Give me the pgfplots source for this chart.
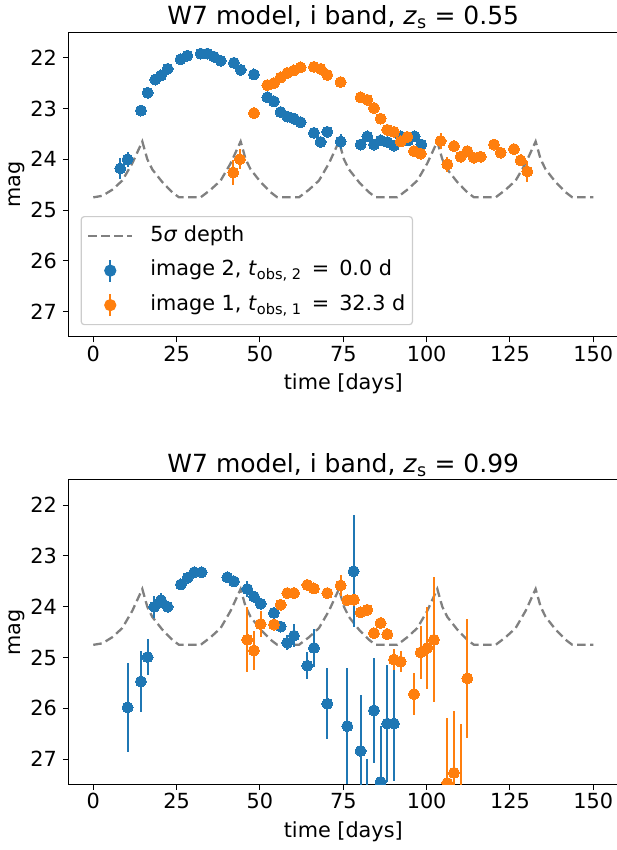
\documentclass[border=0pt]{standalone}
\usepackage{fontspec}
\setmainfont{DejaVu Sans}
\usepackage{pgfplots}
\usepackage{pgfplotstable}
\pgfplotsset{compat=1.18}
\definecolor{mplblue}{HTML}{1F77B4}
\definecolor{mplorange}{HTML}{FF7F0E}
\definecolor{mplgray}{HTML}{808080}
\newcommand{\fs}{\fontsize{20.8}{25}\selectfont}
\newcommand{\ft}{\fontsize{25}{30}\selectfont}

\pgfplotstableread{
x y
0 24.75
2.7 24.72
5.7 24.60
8.7 24.42
11.7 24.08
14.7 23.65
16.2 24.00
17.7 24.20
20.7 24.45
23.7 24.65
25.7 24.75
32.2 24.75
35.2 24.60
38.2 24.42
41.2 24.08
44.2 23.65
45.7 24.00
47.2 24.20
50.2 24.45
53.2 24.65
55.2 24.75
61.7 24.75
64.7 24.60
67.7 24.42
70.7 24.08
73.7 23.65
75.2 24.00
76.7 24.20
79.7 24.45
82.7 24.65
84.7 24.75
91.2 24.75
94.2 24.60
97.2 24.42
100.2 24.08
103.2 23.65
104.7 24.00
106.2 24.20
109.2 24.45
112.2 24.65
114.2 24.75
120.7 24.75
123.7 24.60
126.7 24.42
129.7 24.08
132.7 23.65
134.2 24.00
135.7 24.20
138.7 24.45
141.7 24.65
143.7 24.75
150 24.75
}\depth

\pgfplotstableread{
x y e
8.1 24.18 0.2
10.3 24.00 0.15
14.3 23.04 0.03
16.3 22.69 0.02
18.6 22.43 0.02
20.3 22.35 0.02
22.3 22.22 0.02
26.2 22.03 0.02
28.2 21.96 0.02
32.2 21.92 0.02
34.2 21.92 0.02
36.2 21.98 0.02
38.2 22.06 0.02
42.2 22.10 0.03
44.2 22.24 0.03
48.2 22.33 0.03
52.2 22.78 0.03
54.2 22.86 0.03
56.2 23.07 0.04
58.2 23.16 0.04
60.2 23.20 0.04
62.2 23.27 0.05
66.2 23.48 0.06
68.2 23.66 0.06
70.2 23.46 0.06
74.2 23.65 0.15
80.2 23.71 0.06
82.2 23.55 0.06
84.2 23.71 0.06
86.2 23.63 0.06
88.2 23.66 0.07
90.2 23.73 0.07
92.2 23.55 0.07
94.4 23.63 0.08
96.4 23.55 0.08
98.4 23.71 0.08
}\topblue

\pgfplotstableread{
x y e
42.0 24.26 0.25
44.0 24.00 0.2
48.2 23.09 0.04
52.2 22.54 0.03
54.2 22.50 0.03
56.2 22.39 0.03
58.2 22.30 0.03
60.2 22.25 0.03
62.2 22.19 0.03
66.2 22.18 0.03
68.2 22.22 0.03
70.2 22.34 0.03
74.2 22.48 0.03
80.2 22.78 0.04
82.2 22.83 0.04
84.2 22.99 0.04
86.2 23.20 0.05
88.2 23.42 0.05
90.2 23.46 0.06
92.2 23.65 0.06
94.2 23.56 0.06
96.2 23.84 0.07
98.2 23.89 0.08
104.2 23.64 0.15
106.2 24.10 0.15
108.2 23.74 0.12
110.2 23.95 0.08
112.2 23.84 0.08
114.2 23.97 0.08
116.2 23.95 0.08
120.2 23.71 0.08
122.2 23.87 0.08
126.2 23.80 0.1
128.2 24.02 0.12
130.2 24.24 0.2
}\toporange

\pgfplotstableread{
x y e
10.3 25.98 0.88
14.3 25.47 0.6
16.3 24.99 0.36
18.3 24.00 0.22
20.3 23.87 0.15
22.3 24.00 0.05
26.3 23.56 0.05
28.3 23.43 0.05
30.3 23.32 0.05
32.5 23.32 0.05
40.2 23.42 0.05
42.2 23.50 0.05
46.2 23.65 0.15
48.2 23.80 0.08
50.2 23.94 0.1
54.2 24.12 0.08
56.2 24.39 0.1
58.2 24.71 0.15
60.2 24.57 0.23
64.2 25.16 0.26
66.2 24.81 0.37
70.2 25.91 0.7
76.2 26.35 1.14
78.1 23.30 1.1
80.2 26.84 1.11
82.2 28.20 1.2
84.2 26.04 1.04
86.2 27.45 1.1
88.2 26.30 1.15
90.2 26.30 1.14
}\botblue

\pgfplotstableread{
x y e
46.2 24.65 0.64
48.2 24.86 0.38
50.2 24.34 0.26
54.2 24.35 0.05
56.2 23.96 0.05
58.2 23.73 0.05
60.2 23.73 0.05
64.2 23.57 0.05
66.2 23.64 0.05
70.2 23.73 0.05
74.2 23.58 0.2
76.2 23.87 0.06
78.2 23.86 0.06
80.2 24.11 0.08
82.2 24.06 0.1
84.2 24.52 0.08
86.2 24.32 0.12
88.2 24.54 0.12
90.2 25.04 0.2
92.2 25.08 0.2
96.2 25.72 0.42
98.2 24.90 0.53
100.2 24.81 0.8
102.2 24.65 1.23
106.2 27.47 1.27
108.2 27.27 1.22
110.2 27.51 1.2
112.2 25.41 1.17
}\botorange

\pgfplotsset{
  panel/.style={
    scale only axis, width=550pt, height=304.7pt,
    anchor=south west,
    xmin=-7.5, xmax=157.5, ymin=21.5, ymax=27.5, y dir=reverse,
    xtick={0,25,...,150}, ytick={22,23,24,25,26,27},
    tick align=outside, xtick pos=left, ytick pos=left,
    major tick length=5.3pt,
    every tick/.style={black, line width=1pt},
    axis line style={line width=1pt},
    /pgf/number format/assume math mode=true,
    tick label style={font=\fs},
    xticklabel style={anchor=base, inner sep=0pt, yshift=-19pt},
    yticklabel style={anchor=east, inner sep=0pt, xshift=-6pt},
    xlabel={time [days]},
    ylabel={mag},
    every axis x label/.style={at={(0.5,0)}, anchor=base, yshift=-53pt, font=\fs},
    every axis y label/.style={at={(0,0.5)}, xshift=-51.7pt, rotate=90, anchor=center, font=\fs},
    title style={at={(0.5,1)}, anchor=base, yshift=1.5pt, font=\ft},
    clip marker paths=true,
  },
  depthline/.style={mplgray, line width=2.3pt, dash pattern=on 8.5pt off 4.5pt},
  errpts/.style={#1, only marks, mark=*, mark size=5.5pt, mark options={#1, line width=0pt},
    error bars/.cd, y dir=both, y explicit, error mark=none,
    error bar style={line width=2pt, #1}},
}

\begin{document}
\begin{tikzpicture}
\path[use as bounding box] (0pt,0pt) rectangle (617pt,850pt);

\begin{axis}[panel, at={(68.3pt,513pt)},
  title={W7 model, i band, \textit{z}\textsubscript{s} = 0.55},
  legend cell align=left,
  legend style={at={(0.0225,0.397)}, anchor=north west, draw=black!20, line width=1.2pt,
    rounded corners=3pt, fill=white, font=\fs, inner xsep=5pt, inner ysep=7.5pt, row sep=10.5pt,
    nodes={inner sep=2pt, text height=15pt, text depth=5pt}},
]
\addplot[depthline, legend image code/.code={
  \path[draw=none,fill=none] (0pt,0pt) -- (62pt,0pt);
  \draw[mplgray, line width=2.3pt, dash pattern=on 8.5pt off 4.5pt] (2pt,0pt) -- (46pt,0pt);}]
  table[x=x,y=y] {\depth};
\addlegendentry{5\textit{σ} depth}
\addplot[legend image code/.code={
  \path[draw=none,fill=none] (0pt,0pt) -- (62pt,0pt);
  \draw[mplblue, line width=2pt] (24pt,-11pt) -- (24pt,11pt);
  \fill[mplblue] (24pt,0pt) circle (5.5pt);}, errpts=mplblue]
  table[x=x,y=y,y error=e] {\topblue};
\addlegendentry{image 2, \textit{t}\textsubscript{obs, 2}\, = \,0.0 d}
\addplot[legend image code/.code={
  \path[draw=none,fill=none] (0pt,0pt) -- (62pt,0pt);
  \draw[mplorange, line width=2pt] (24pt,-11pt) -- (24pt,11pt);
  \fill[mplorange] (24pt,0pt) circle (5.5pt);}, errpts=mplorange]
  table[x=x,y=y,y error=e] {\toporange};
\addlegendentry{image 1, \textit{t}\textsubscript{obs, 1}\, = \,32.3 d}
\end{axis}

\begin{axis}[panel, at={(68.3pt,65.5pt)},
  title={W7 model, i band, \textit{z}\textsubscript{s} = 0.99},
]
\addplot[depthline] table[x=x,y=y] {\depth};
\addplot[errpts=mplblue] table[x=x,y=y,y error=e] {\botblue};
\addplot[errpts=mplorange] table[x=x,y=y,y error=e] {\botorange};
\end{axis}
\end{tikzpicture}
\end{document}
